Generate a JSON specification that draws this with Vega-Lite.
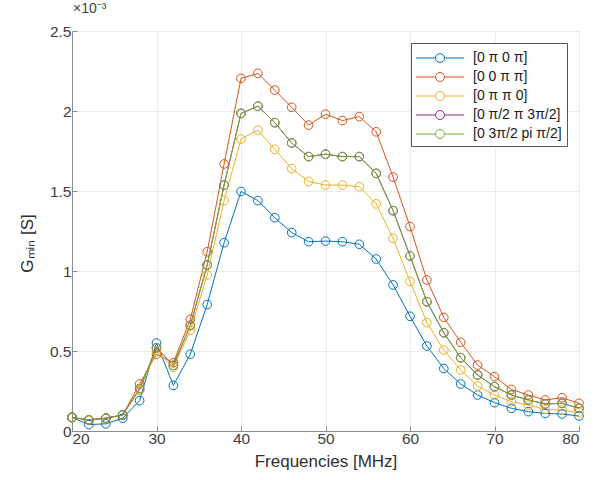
{
  "$schema": "https://vega.github.io/schema/vega-lite/v6.json",
  "width": 507,
  "height": 400,
  "autosize": {"type": "none"},
  "padding": {"left": 72, "top": 31, "right": 16, "bottom": 49},
  "background": "white",
  "title": {"text": "×10⁻³", "anchor": "start", "frame": "group", "fontSize": 14, "fontWeight": "normal", "font": "Liberation Sans", "color": "#404040", "offset": 8, "dx": 1},
  "config": {
    "view": {"stroke": "#d8d8d8", "strokeWidth": 1},
    "font": "Liberation Sans",
    "axis": {"labelFont": "Liberation Sans", "titleFont": "Liberation Sans", "labelFontSize": 15.5, "titleFontSize": 17, "titleFontWeight": "normal", "labelColor": "#404040", "titleColor": "#303030", "domainColor": "#8c8c8c", "tickColor": "#8c8c8c", "gridColor": "#ececec", "tickSize": -5}
  },
  "data": {"values": [
    {"f":20,"s":"[0 π 0 π]","g":0.085},{"f":22,"s":"[0 π 0 π]","g":0.04},{"f":24,"s":"[0 π 0 π]","g":0.045},{"f":26,"s":"[0 π 0 π]","g":0.08},{"f":28,"s":"[0 π 0 π]","g":0.19},{"f":30,"s":"[0 π 0 π]","g":0.55},{"f":32,"s":"[0 π 0 π]","g":0.285},{"f":34,"s":"[0 π 0 π]","g":0.48},{"f":36,"s":"[0 π 0 π]","g":0.79},{"f":38,"s":"[0 π 0 π]","g":1.177},{"f":40,"s":"[0 π 0 π]","g":1.497},{"f":42,"s":"[0 π 0 π]","g":1.44},{"f":44,"s":"[0 π 0 π]","g":1.333},{"f":46,"s":"[0 π 0 π]","g":1.24},{"f":48,"s":"[0 π 0 π]","g":1.183},{"f":50,"s":"[0 π 0 π]","g":1.187},{"f":52,"s":"[0 π 0 π]","g":1.183},{"f":54,"s":"[0 π 0 π]","g":1.167},{"f":56,"s":"[0 π 0 π]","g":1.075},{"f":58,"s":"[0 π 0 π]","g":0.913},{"f":60,"s":"[0 π 0 π]","g":0.717},{"f":62,"s":"[0 π 0 π]","g":0.531},{"f":64,"s":"[0 π 0 π]","g":0.39},{"f":66,"s":"[0 π 0 π]","g":0.294},{"f":68,"s":"[0 π 0 π]","g":0.225},{"f":70,"s":"[0 π 0 π]","g":0.177},{"f":72,"s":"[0 π 0 π]","g":0.142},{"f":74,"s":"[0 π 0 π]","g":0.121},{"f":76,"s":"[0 π 0 π]","g":0.11},{"f":78,"s":"[0 π 0 π]","g":0.106},{"f":80,"s":"[0 π 0 π]","g":0.094},
    {"f":20,"s":"[0 0 π π]","g":0.085},{"f":22,"s":"[0 0 π π]","g":0.068},{"f":24,"s":"[0 0 π π]","g":0.08},{"f":26,"s":"[0 0 π π]","g":0.1},{"f":28,"s":"[0 0 π π]","g":0.294},{"f":30,"s":"[0 0 π π]","g":0.48},{"f":32,"s":"[0 0 π π]","g":0.427},{"f":34,"s":"[0 0 π π]","g":0.698},{"f":36,"s":"[0 0 π π]","g":1.12},{"f":38,"s":"[0 0 π π]","g":1.669},{"f":40,"s":"[0 0 π π]","g":2.204},{"f":42,"s":"[0 0 π π]","g":2.235},{"f":44,"s":"[0 0 π π]","g":2.131},{"f":46,"s":"[0 0 π π]","g":2.023},{"f":48,"s":"[0 0 π π]","g":1.912},{"f":50,"s":"[0 0 π π]","g":1.98},{"f":52,"s":"[0 0 π π]","g":1.94},{"f":54,"s":"[0 0 π π]","g":1.965},{"f":56,"s":"[0 0 π π]","g":1.87},{"f":58,"s":"[0 0 π π]","g":1.587},{"f":60,"s":"[0 0 π π]","g":1.278},{"f":62,"s":"[0 0 π π]","g":0.944},{"f":64,"s":"[0 0 π π]","g":0.71},{"f":66,"s":"[0 0 π π]","g":0.554},{"f":68,"s":"[0 0 π π]","g":0.412},{"f":70,"s":"[0 0 π π]","g":0.34},{"f":72,"s":"[0 0 π π]","g":0.26},{"f":74,"s":"[0 0 π π]","g":0.225},{"f":76,"s":"[0 0 π π]","g":0.194},{"f":78,"s":"[0 0 π π]","g":0.208},{"f":80,"s":"[0 0 π π]","g":0.173},
    {"f":20,"s":"[0 π π 0]","g":0.083},{"f":22,"s":"[0 π π 0]","g":0.068},{"f":24,"s":"[0 π π 0]","g":0.078},{"f":26,"s":"[0 π π 0]","g":0.1},{"f":28,"s":"[0 π π 0]","g":0.255},{"f":30,"s":"[0 π π 0]","g":0.5},{"f":32,"s":"[0 π π 0]","g":0.398},{"f":34,"s":"[0 π π 0]","g":0.63},{"f":36,"s":"[0 π π 0]","g":0.975},{"f":38,"s":"[0 π π 0]","g":1.44},{"f":40,"s":"[0 π π 0]","g":1.825},{"f":42,"s":"[0 π π 0]","g":1.88},{"f":44,"s":"[0 π π 0]","g":1.76},{"f":46,"s":"[0 π π 0]","g":1.64},{"f":48,"s":"[0 π π 0]","g":1.56},{"f":50,"s":"[0 π π 0]","g":1.537},{"f":52,"s":"[0 π π 0]","g":1.537},{"f":54,"s":"[0 π π 0]","g":1.527},{"f":56,"s":"[0 π π 0]","g":1.42},{"f":58,"s":"[0 π π 0]","g":1.204},{"f":60,"s":"[0 π π 0]","g":0.935},{"f":62,"s":"[0 π π 0]","g":0.677},{"f":64,"s":"[0 π π 0]","g":0.506},{"f":66,"s":"[0 π π 0]","g":0.381},{"f":68,"s":"[0 π π 0]","g":0.281},{"f":70,"s":"[0 π π 0]","g":0.225},{"f":72,"s":"[0 π π 0]","g":0.183},{"f":74,"s":"[0 π π 0]","g":0.162},{"f":76,"s":"[0 π π 0]","g":0.135},{"f":78,"s":"[0 π π 0]","g":0.131},{"f":80,"s":"[0 π π 0]","g":0.115},
    {"f":20,"s":"[0 π/2 π 3π/2]","g":0.085},{"f":22,"s":"[0 π/2 π 3π/2]","g":0.07},{"f":24,"s":"[0 π/2 π 3π/2]","g":0.08},{"f":26,"s":"[0 π/2 π 3π/2]","g":0.1},{"f":28,"s":"[0 π/2 π 3π/2]","g":0.265},{"f":30,"s":"[0 π/2 π 3π/2]","g":0.52},{"f":32,"s":"[0 π/2 π 3π/2]","g":0.41},{"f":34,"s":"[0 π/2 π 3π/2]","g":0.66},{"f":36,"s":"[0 π/2 π 3π/2]","g":1.0375},{"f":38,"s":"[0 π/2 π 3π/2]","g":1.5375},{"f":40,"s":"[0 π/2 π 3π/2]","g":1.985},{"f":42,"s":"[0 π/2 π 3π/2]","g":2.03},{"f":44,"s":"[0 π/2 π 3π/2]","g":1.927},{"f":46,"s":"[0 π/2 π 3π/2]","g":1.8},{"f":48,"s":"[0 π/2 π 3π/2]","g":1.715},{"f":50,"s":"[0 π/2 π 3π/2]","g":1.73},{"f":52,"s":"[0 π/2 π 3π/2]","g":1.715},{"f":54,"s":"[0 π/2 π 3π/2]","g":1.715},{"f":56,"s":"[0 π/2 π 3π/2]","g":1.61},{"f":58,"s":"[0 π/2 π 3π/2]","g":1.377},{"f":60,"s":"[0 π/2 π 3π/2]","g":1.094},{"f":62,"s":"[0 π/2 π 3π/2]","g":0.808},{"f":64,"s":"[0 π/2 π 3π/2]","g":0.614},{"f":66,"s":"[0 π/2 π 3π/2]","g":0.458},{"f":68,"s":"[0 π/2 π 3π/2]","g":0.35},{"f":70,"s":"[0 π/2 π 3π/2]","g":0.277},{"f":72,"s":"[0 π/2 π 3π/2]","g":0.225},{"f":74,"s":"[0 π/2 π 3π/2]","g":0.194},{"f":76,"s":"[0 π/2 π 3π/2]","g":0.169},{"f":78,"s":"[0 π/2 π 3π/2]","g":0.173},{"f":80,"s":"[0 π/2 π 3π/2]","g":0.142},
    {"f":20,"s":"[0 3π/2 pi π/2]","g":0.085},{"f":22,"s":"[0 3π/2 pi π/2]","g":0.07},{"f":24,"s":"[0 3π/2 pi π/2]","g":0.08},{"f":26,"s":"[0 3π/2 pi π/2]","g":0.1},{"f":28,"s":"[0 3π/2 pi π/2]","g":0.265},{"f":30,"s":"[0 3π/2 pi π/2]","g":0.52},{"f":32,"s":"[0 3π/2 pi π/2]","g":0.41},{"f":34,"s":"[0 3π/2 pi π/2]","g":0.66},{"f":36,"s":"[0 3π/2 pi π/2]","g":1.0375},{"f":38,"s":"[0 3π/2 pi π/2]","g":1.5375},{"f":40,"s":"[0 3π/2 pi π/2]","g":1.985},{"f":42,"s":"[0 3π/2 pi π/2]","g":2.03},{"f":44,"s":"[0 3π/2 pi π/2]","g":1.927},{"f":46,"s":"[0 3π/2 pi π/2]","g":1.8},{"f":48,"s":"[0 3π/2 pi π/2]","g":1.715},{"f":50,"s":"[0 3π/2 pi π/2]","g":1.73},{"f":52,"s":"[0 3π/2 pi π/2]","g":1.715},{"f":54,"s":"[0 3π/2 pi π/2]","g":1.715},{"f":56,"s":"[0 3π/2 pi π/2]","g":1.61},{"f":58,"s":"[0 3π/2 pi π/2]","g":1.377},{"f":60,"s":"[0 3π/2 pi π/2]","g":1.094},{"f":62,"s":"[0 3π/2 pi π/2]","g":0.808},{"f":64,"s":"[0 3π/2 pi π/2]","g":0.614},{"f":66,"s":"[0 3π/2 pi π/2]","g":0.458},{"f":68,"s":"[0 3π/2 pi π/2]","g":0.35},{"f":70,"s":"[0 3π/2 pi π/2]","g":0.277},{"f":72,"s":"[0 3π/2 pi π/2]","g":0.225},{"f":74,"s":"[0 3π/2 pi π/2]","g":0.194},{"f":76,"s":"[0 3π/2 pi π/2]","g":0.169},{"f":78,"s":"[0 3π/2 pi π/2]","g":0.173},{"f":80,"s":"[0 3π/2 pi π/2]","g":0.142}
  ]},
  "mark": {"type": "line", "strokeWidth": 1, "point": {"filled": false, "size": 75, "strokeWidth": 1}},
  "encoding": {
    "x": {"field": "f", "type": "quantitative", "title": "Frequencies [MHz]",
      "scale": {"domain": [20, 80], "nice": false},
      "axis": {"values": [20, 30, 40, 50, 60, 70, 80], "titlePadding": 7, "labelPadding": 5}},
    "y": {"field": "g", "type": "quantitative", "title": "Gₘᵢₙ [S]",
      "scale": {"domain": [0, 2.5], "nice": false},
      "axis": {"values": [0, 0.5, 1, 1.5, 2, 2.5], "format": "~g", "titlePadding": 13, "labelPadding": 6, "titleY": 212}},
    "color": {"field": "s", "type": "nominal",
      "sort": ["[0 π 0 π]", "[0 0 π π]", "[0 π π 0]", "[0 π/2 π 3π/2]", "[0 3π/2 pi π/2]"],
      "scale": {"domain": ["[0 π 0 π]", "[0 0 π π]", "[0 π π 0]", "[0 π/2 π 3π/2]", "[0 3π/2 pi π/2]"],
        "range": ["#0072BD", "#D95319", "#EDB120", "#7E2F8E", "#77AC30"]},
      "legend": {"orient": "top-right", "offset": 12, "title": null,
        "strokeColor": "#555555", "fillColor": "white", "padding": 5,
        "labelFontSize": 14, "labelFont": "Liberation Sans", "labelColor": "#202020",
        "symbolType": "M-2.53,0L-0.47,0M0.47,0L2.53,0M0,-0.47A0.47,0.47 0 1,1 0,0.47A0.47,0.47 0 1,1 0,-0.47",
        "symbolSize": 361, "symbolStrokeWidth": 1, "symbolFillColor": "transparent", "symbolOffset": 14, "rowPadding": 2, "labelOffset": 23}}
  }
}
